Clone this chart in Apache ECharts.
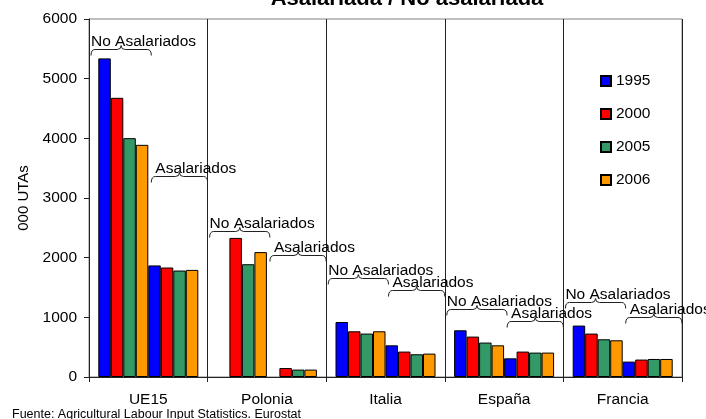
<!DOCTYPE html>
<html>
<head>
<meta charset="utf-8">
<script src="https://cdn.jsdelivr.net/npm/echarts@6/dist/echarts.min.js"></script>
<style>
html,body{margin:0;padding:0;background:#fff;}
#chart{width:706px;height:419px;}
</style>
</head>
<body>
<div id="chart"></div>
<script>
// ---- data ----
const categories = ['UE15', 'Polonia', 'Italia', 'España', 'Francia'];
const years = ['1995', '2000', '2005', '2006'];
// No asalariados (000 UTAs)
const noAsal1995 = [5340, null, 922, 783, 862];
const noAsal2000 = [4679, 2331, 766, 677, 728];
const noAsal2005 = [4003, 1890, 728, 577, 632];
const noAsal2006 = [3891, 2093, 766, 531, 615];
// Asalariados (000 UTAs)
const asal1995 = [1870, null, 531, 313, 258];
const asal2000 = [1835, 150, 426, 426, 292];
const asal2005 = [1784, 124, 381, 409, 302];
const asal2006 = [1795, 124, 392, 409, 302];
// brace annotations: [category index, group (0 = No Asalariados, 1 = Asalariados), level in 000 UTAs]
const groupLabels = ['No Asalariados', 'Asalariados'];
const braceLevels = [
  [0, 0, 5494], [0, 1, 3365],
  [1, 0, 2443], [1, 1, 2041],
  [2, 0, 1655], [2, 1, 1466],
  [3, 0, 1147], [3, 1, 939],
  [4, 0, 1258], [4, 1, 1006]
];
const yTicks = { min: 0, max: 6000, interval: 1000 };
const titleText = 'Asalariada / No asalariada';
const yName = '000 UTAs';
const sourceText = 'Fuente: Agricultural Labour Input Statistics. Eurostat';

// ---- styles ----
const colors = ['#0000FF', '#FF0000', '#339966', '#FF9900'];
const FONT = 'Arial, "Liberation Sans", Helvetica, sans-serif';

const seriesData = [noAsal1995, noAsal2000, noAsal2005, noAsal2006, asal1995, asal2000, asal2005, asal2006];
const barSeries = seriesData.map((d, i) => ({
  type: 'bar',
  name: years[i % 4],
  data: d.map(v => v === null ? '-' : v),
  barWidth: 12.5,
  barGap: '0%',
  itemStyle: { color: colors[i % 4], borderColor: '#000', borderWidth: 1 },
  emphasis: { disabled: true },
  animation: false
}));

const braceSeries = {
  type: 'custom',
  name: 'braces',
  data: braceLevels,
  z: 10,
  silent: true,
  clip: false,
  animation: false,
  renderItem: function (params, api) {
    const idx = api.value(0);
    const grp = api.value(1);
    const v = api.value(2);
    const pt = api.coord([idx, v]);
    const band = api.size([1, 0])[0];
    const start = pt[0] - band / 2;
    let x1, x2;
    if (grp === 0) { x1 = start + 2; x2 = pt[0] + 3; }
    else { x1 = pt[0] + 3; x2 = start + band; }
    const y = Math.round(pt[1]) + 0.5;
    const mid = (x1 + x2) / 2;
    const d = 'M' + x1 + ',' + (y + 6) +
      ' Q' + x1 + ',' + y + ' ' + (x1 + 4) + ',' + y +
      ' L' + (mid - 4) + ',' + y +
      ' Q' + mid + ',' + y + ' ' + mid + ',' + (y - 4) +
      ' Q' + mid + ',' + y + ' ' + (mid + 4) + ',' + y +
      ' L' + (x2 - 4) + ',' + y +
      ' Q' + x2 + ',' + y + ' ' + x2 + ',' + (y + 6);
    return {
      type: 'group',
      children: [
        {
          type: 'path',
          shape: { pathData: d },
          style: { fill: null, stroke: '#222', lineWidth: 1 }
        },
        {
          type: 'text',
          x: grp === 0 ? x1 : x1 + 4,
          y: y - 8,
          style: {
            text: groupLabels[grp],
            fill: '#000',
            font: '15.5px ' + FONT,
            textAlign: 'left',
            textVerticalAlign: 'middle'
          }
        }
      ]
    };
  }
};

const chart = echarts.init(document.getElementById('chart'), null, { renderer: 'canvas' });
chart.setOption({
  animation: false,
  backgroundColor: '#fff',
  textStyle: { fontFamily: FONT },
  legend: {
    data: years,
    orient: 'vertical',
    left: 595,
    top: 68,
    itemWidth: 10,
    itemHeight: 10,
    itemGap: 17,
    icon: 'rect',
    textStyle: { fontSize: 15.5, color: '#000', fontFamily: FONT },
    selectedMode: false
  },
  grid: {
    left: 89, right: 24, top: 19, bottom: 42,
    show: true, borderColor: '#808080', borderWidth: 1
  },
  xAxis: {
    type: 'category',
    data: categories,
    axisLine: { lineStyle: { color: '#222', width: 1 } },
    axisTick: { show: true, length: 5, lineStyle: { color: '#222' } },
    axisLabel: { fontSize: 15.5, color: '#000', margin: 15, fontFamily: FONT },
    splitLine: { show: true, lineStyle: { color: '#222', width: 1 } }
  },
  yAxis: {
    type: 'value',
    min: yTicks.min, max: yTicks.max, interval: yTicks.interval,
    name: yName,
    nameLocation: 'middle',
    nameRotate: 90,
    nameGap: 58,
    nameTextStyle: { fontSize: 15, color: '#000', fontFamily: FONT },
    axisLine: { show: true, lineStyle: { color: '#222', width: 1 } },
    axisTick: { show: true, length: 5, lineStyle: { color: '#222' } },
    axisLabel: { fontSize: 15.5, color: '#000', margin: 12, fontFamily: FONT, formatter: v => String(v) },
    splitLine: { show: false }
  },
  graphic: [{
    type: 'text',
    x: 407,
    y: 10,
    style: {
      text: titleText, fill: '#000', font: 'bold 22px ' + FONT,
      textAlign: 'center', textVerticalAlign: 'bottom'
    }
  }, {
    type: 'text',
    left: 12,
    top: 408,
    style: { text: sourceText, fill: '#000', font: '12.5px ' + FONT }
  }],
  series: barSeries.concat([braceSeries])
});
</script>
</body>
</html>
